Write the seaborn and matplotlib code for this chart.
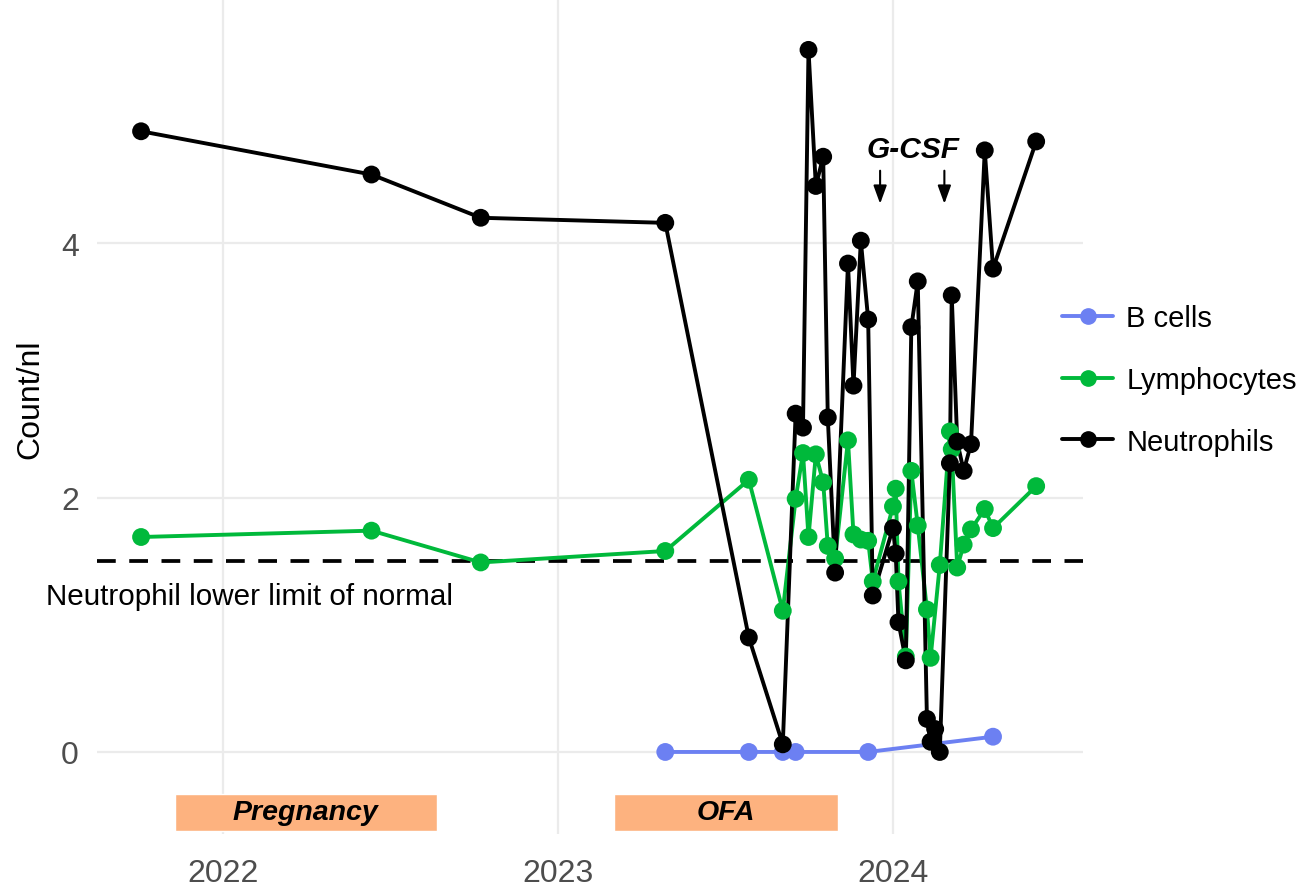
import matplotlib.dates as mdates
import matplotlib.pyplot as plt
import pandas as pd
import seaborn as sns
from matplotlib.lines import Line2D

# blood counts per visit (count/nl)
neutro_dates = [
    "2021-10-04", "2022-06-12", "2022-10-09", "2023-04-28", "2023-07-28", "2023-09-03",
    "2023-09-17", "2023-09-25", "2023-10-01", "2023-10-09", "2023-10-17", "2023-10-22",
    "2023-10-30", "2023-11-13", "2023-11-19", "2023-11-27", "2023-12-05", "2023-12-10",
    "2024-01-01", "2024-01-04", "2024-01-07", "2024-01-15", "2024-01-21", "2024-01-28",
    "2024-02-07", "2024-02-11", "2024-02-16", "2024-02-21", "2024-03-03", "2024-03-05",
    "2024-03-11", "2024-03-18", "2024-03-26", "2024-04-10", "2024-04-19", "2024-06-05",
]
neutrophils = [
    4.88, 4.54, 4.20, 4.16, 0.90, 0.06,
    2.66, 2.55, 5.52, 4.45, 4.68, 2.63,
    1.41, 3.84, 2.88, 4.02, 3.40, 1.23,
    1.76, 1.56, 1.02, 0.72, 3.34, 3.70,
    0.26, 0.08, 0.18, 0.00, 2.27, 3.59,
    2.44, 2.21, 2.42, 4.73, 3.80, 4.80,
]
lympho_dates = [d for d in neutro_dates if d != "2024-02-16"]
lymphocytes = [
    1.69, 1.74, 1.49, 1.58, 2.14, 1.11,
    1.99, 2.35, 1.69, 2.34, 2.12, 1.62,
    1.52, 2.45, 1.71, 1.67, 1.66, 1.34,
    1.93, 2.07, 1.34, 0.75, 2.21, 1.78,
    1.12, 0.74, 1.47, 2.52, 2.38,
    1.45, 1.63, 1.75, 1.91, 1.76, 2.09,
]
bcell_dates = ["2023-04-28", "2023-07-28", "2023-09-03", "2023-09-17", "2023-12-05", "2024-04-19"]
b_cells = [0.0, 0.0, 0.0, 0.0, 0.0, 0.12]

series_order = ["B cells", "Lymphocytes", "Neutrophils"]
series_colors = {"B cells": "#6C80F2", "Lymphocytes": "#00B93B", "Neutrophils": "#000000"}

neutro_lln = 1.5
phases = ["Pregnancy", "OFA"]
phase_start = ["2021-11-10", "2023-03-03"]
phase_end = ["2022-08-22", "2023-11-02"]
gcsf_dates = ["2023-12-18", "2024-02-26"]
year_ticks = ["2022-01-01", "2023-01-01", "2024-01-01"]

df = pd.concat([
    pd.DataFrame({"date": pd.to_datetime(bcell_dates), "count": b_cells, "cell": "B cells"}),
    pd.DataFrame({"date": pd.to_datetime(lympho_dates), "count": lymphocytes, "cell": "Lymphocytes"}),
    pd.DataFrame({"date": pd.to_datetime(neutro_dates), "count": neutrophils, "cell": "Neutrophils"}),
], ignore_index=True)

sns.set_theme(style="whitegrid")
plt.rcParams["font.family"] = ["Liberation Sans", "DejaVu Sans"]
plt.rcParams["text.color"] = "black"

fig = plt.figure(figsize=(13.03, 8.87), dpi=100)
ax = fig.add_axes([97 / 1303, 52 / 887, 986 / 1303, 835 / 887])

# lines first, then points on top (like geom_line + geom_point)
sns.lineplot(data=df, x="date", y="count", hue="cell", hue_order=series_order,
             palette=series_colors, estimator=None, sort=True, linewidth=2.8,
             legend=False, ax=ax)
sns.scatterplot(data=df, x="date", y="count", hue="cell", hue_order=series_order,
                palette=series_colors, s=165, linewidth=0, legend=False, ax=ax, zorder=3)

ax.axhline(neutro_lln, color="black", lw=2.7, ls=(0, (5.0, 3.6)), zorder=1.5)
ax.text(mdates.date2num(pd.Timestamp("2022-01-30")), 1.226, "Neutrophil lower limit of normal",
        ha="center", va="center", fontsize=21.3, color="black", clip_on=False)

# treatment phases under the axis
for name, start, end in zip(phases, phase_start, phase_end):
    x0 = mdates.date2num(pd.Timestamp(start))
    x1 = mdates.date2num(pd.Timestamp(end))
    ax.broken_barh([(x0, x1 - x0)], (-0.62, 0.29), facecolors="#FDB27F", zorder=2)
    ax.text((x0 + x1) / 2, -0.475, name, ha="center", va="center", color="black",
            fontsize=20.5, fontweight="bold", fontstyle="italic")

# G-CSF arrows
for d in gcsf_dates:
    xd = mdates.date2num(pd.Timestamp(d))
    ax.annotate("", xy=(xd, 4.31), xytext=(xd, 4.57),
                arrowprops=dict(arrowstyle="-|>,head_length=0.55,head_width=0.2",
                                color="black", lw=1.5, mutation_scale=20,
                                shrinkA=0, shrinkB=0))
ax.text(mdates.date2num(pd.Timestamp("2024-01-23")), 4.74, "G-CSF", ha="center", va="center",
        color="black", fontsize=21.5, fontweight="bold", fontstyle="italic")

ax.set_xlim(pd.Timestamp("2021-08-17"), pd.Timestamp("2024-07-26"))
ax.set_ylim(-0.645, 5.92)
ax.set_xticks(pd.to_datetime(year_ticks))
ax.xaxis.set_major_formatter(mdates.DateFormatter("%Y"))
ax.set_yticks([0, 2, 4])
ax.set_xlabel("")
ax.set_ylabel("Count/nl", fontsize=23, color="black")
ax.yaxis.set_label_coords(-0.052, 0.522)

ax.grid(True, color="#EBEBEB", lw=1.6)
ax.set_axisbelow(True)
for s in ax.spines.values():
    s.set_visible(False)
ax.tick_params(axis="both", length=0, labelsize=23, labelcolor="#4D4D4D")
ax.tick_params(axis="x", pad=17)
ax.tick_params(axis="y", pad=13)

handles = [Line2D([0], [0], color=series_colors[c], lw=2.8, marker="o", markersize=11)
           for c in series_order]
leg = ax.legend(handles, series_order, loc="center left", bbox_to_anchor=(1062 / 1303, 1 - 381 / 887),
                bbox_transform=fig.transFigure, frameon=False, fontsize=21, borderpad=0,
                borderaxespad=0, handlelength=1.75, handletextpad=0.45, labelspacing=1.15)
for t in leg.get_texts():
    t.set_color("black")

fig.savefig("out.png", dpi=100)
